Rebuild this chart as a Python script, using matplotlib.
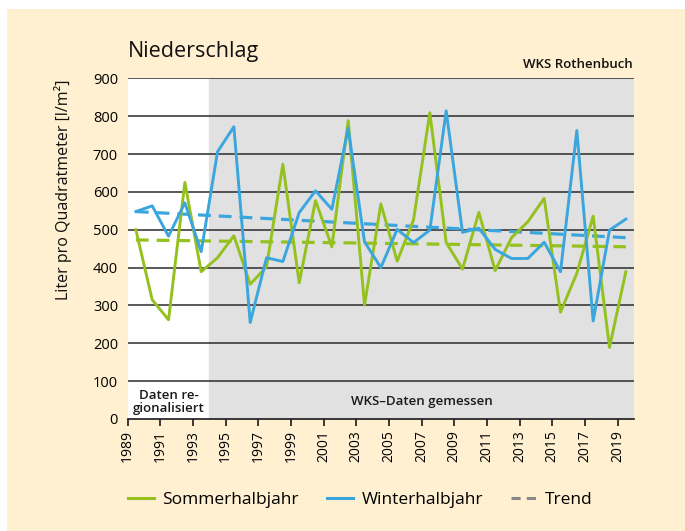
import matplotlib
matplotlib.use("Agg")
import matplotlib.pyplot as plt
from matplotlib.patches import Rectangle
from matplotlib.lines import Line2D

plt.rcParams['font.family'] = ['Open Sans', 'DejaVu Sans']

# ============================
# DATEN
# ============================
jahre = list(range(1989, 2020))

sommer = [500, 315, 262, 625, 389, 426, 484, 356, 402, 673,
          360, 577, 455, 788, 301, 568, 417, 526, 809, 466,
          396, 546, 392, 479, 521, 583, 282, 385, 536, 189, 389]

winter = [548, 563, 483, 571, 442, 706, 772, 255, 426, 416,
          545, 603, 554, 768, 468, 400, 501, 466, 499, 814,
          493, 504, 448, 424, 424, 467, 389, 762, 259, 499, 528]

# Trendlinien (Anfang / Ende)
trend_jahre = [1989, 2019]
trend_sommer = [473, 455]
trend_winter = [548, 479]

gelb = "#FEF0D0"
gruen = "#95C11F"
blau = "#3AA6DD"

fig = plt.figure(figsize=(6.85, 5.31), dpi=100)
fig.patch.set_facecolor("white")
fig.patches.append(Rectangle((7 / 685, 0), 1, 1 - 9 / 531, transform=fig.transFigure,
                             facecolor=gelb, edgecolor="none", zorder=-10))

ax = fig.add_axes([127.7 / 685, 1 - 419 / 531, (634 - 127.7) / 685, (419 - 78.3) / 531])
ax.set_xlim(1989, 2020)
ax.set_ylim(0, 900)

# Hintergrund: weiss = regionalisiert, grau = gemessen
ax.axvspan(1989, 1994, color="white", zorder=0)
ax.axvspan(1994, 2020, color="#E1E1E1", zorder=0)

for y in range(100, 1000, 100):
    ax.axhline(y, color="#2b2b2b", lw=1.1, zorder=1)

x = [j + 0.5 for j in jahre]
xt = [j + 0.5 for j in trend_jahre]

ax.plot(xt, trend_winter, color=blau, lw=2.3, ls=(0, (4, 2.5)), zorder=2)
ax.plot(xt, trend_sommer, color=gruen, lw=2.3, ls=(0, (4, 2.5)), zorder=2)
ax.plot(x, sommer, color=gruen, lw=2.1, zorder=3)
ax.plot(x, winter, color=blau, lw=2.1, zorder=4)

for s in ["top", "right", "left"]:
    ax.spines[s].set_visible(False)
ax.spines["bottom"].set_color("#1a1a1a")
ax.spines["bottom"].set_linewidth(1.2)

ax.set_xticks(list(range(1989, 2020, 2)))
ax.set_xticklabels([str(j) for j in range(1989, 2020, 2)], rotation=90, fontsize=10)
ax.tick_params(axis="x", length=5, width=1.2, color="#1a1a1a", pad=3)
ax.set_yticks(list(range(0, 1000, 100)))
ax.tick_params(axis="y", length=0, pad=7, labelsize=10.5)

ax.text(1991.5, 45, "Daten re-\ngionalisiert", ha="center", va="center",
        fontsize=9.5, fontweight="semibold", linespacing=1.0, color="#1a1a1a")
ax.text(2007, 45, "WKS–Daten gemessen", ha="center", va="center",
        fontsize=9.5, fontweight="semibold", color="#1a1a1a")

fig.text(128 / 685, 1 - 57 / 531, "Niederschlag", fontsize=15.5, fontweight="medium",
         color="#111111", ha="left", va="baseline")
fig.text(633 / 685, 1 - 68 / 531, "WKS Rothenbuch", fontsize=9.5, fontweight="semibold",
         color="#111111", ha="right", va="baseline")
fig.text(63 / 685, 1 - 80 / 531, "Liter pro Quadratmeter [l/m²]", rotation=90,
         fontsize=11.5, fontweight="medium", ha="center", va="top", color="#111111")

handles = [
    Line2D([], [], color=gruen, lw=2.2),
    Line2D([], [], color=blau, lw=2.2),
    Line2D([], [], color="#888888", lw=2.2, ls=(0, (3, 2))),
]
fig.legend(handles, ["Sommerhalbjahr", "Winterhalbjahr", "Trend"],
           loc="center left", bbox_to_anchor=(112 / 685, 1 - 500 / 531),
           ncol=3, frameon=False, fontsize=12.5, handlelength=1.5,
           handletextpad=0.5, columnspacing=1.6)

plt.savefig("out.png", dpi=100)
